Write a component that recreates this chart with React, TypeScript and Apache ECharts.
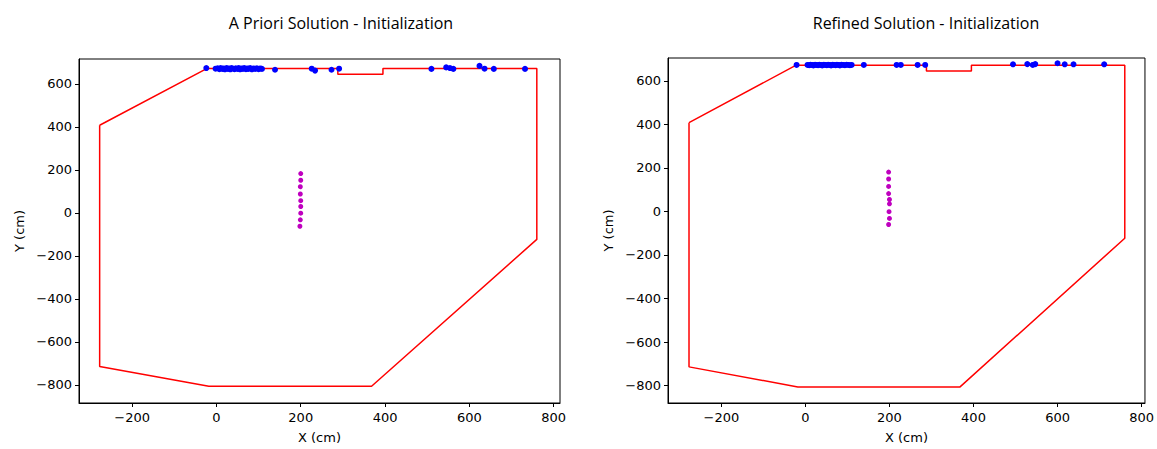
import React, { useEffect, useRef } from "react";
import * as echarts from "echarts";

const titles = ["A Priori Solution - Initialization", "Refined Solution - Initialization"];
const xTicks = [-200, 0, 200, 400, 600, 800];
const yTicks = [-800, -600, -400, -200, 0, 200, 400, 600];

// Boundary polygon (cm)
const boundary: [number, number][] = [
  [-277, 408], [-22, 672], [288, 672], [288, 645], [395, 645], [395, 672],
  [760, 672], [760, -123], [368, -806], [-18, -806], [-277, -714], [-277, 408],
];

// Blue points, a priori
const blueLeft: [number, number][] = [
  [-24, 674], [-2, 671], [3, 673], [7, 669], [10, 674], [14, 670], [17, 672], [20, 668],
  [24, 674], [27, 670], [30, 672], [33, 668], [36, 674], [40, 671], [43, 669], [46, 673],
  [50, 670], [53, 674], [56, 668], [60, 672], [63, 670], [66, 674], [70, 669], [73, 672],
  [76, 670], [80, 674], [84, 668], [88, 672], [92, 670], [96, 673], [100, 669], [104, 672],
  [108, 670], [139, 666], [226, 671], [234, 662], [273, 666], [291, 671],
  [510, 670], [545, 677], [554, 674], [562, 670], [624, 684], [636, 671], [658, 670], [732, 670],
];

// Blue points, refined
const blueRight: [number, number][] = [
  [-21, 673], [5, 673], [9, 672], [12, 674], [16, 673], [19, 671], [23, 674], [26, 673],
  [30, 672], [33, 674], [37, 673], [40, 671], [44, 674], [47, 673], [51, 672], [54, 674],
  [58, 673], [61, 671], [65, 674], [68, 673], [72, 672], [75, 674], [79, 673], [82, 671],
  [86, 674], [90, 673], [94, 672], [98, 674], [102, 673], [106, 672], [110, 673],
  [139, 673], [217, 673], [227, 673], [267, 673], [285, 673],
  [494, 676], [528, 677], [541, 673], [547, 677], [600, 681], [617, 676], [638, 676], [711, 676],
];

// Magenta points
const magentaLeft: [number, number][] = [
  [200, 183], [200, 152], [199, 122], [199, 88], [200, 57], [200, 30], [200, -1], [199, -32], [198, -62],
];
const magentaRight: [number, number][] = [
  [198, 181], [198, 149], [198, 115], [198, 82], [200, 55], [200, 35], [199, -1], [200, -32], [198, -60],
];

const xRanges: [number, number][] = [[-326, 815], [-327, 808]];
const yRanges: [number, number][] = [[-884, 716], [-880, 705]];

const fmt = (v: number) => String(v).replace("-", "\u2212");

export default function App() {
  const ref = useRef<HTMLDivElement>(null);
  useEffect(() => {
    if (!ref.current) return;
    const chart = echarts.init(ref.current, null, { renderer: "svg" });
    const grids = [
      { left: 79, top: 59, width: 481, height: 348 },
      { left: 668, top: 58, width: 479, height: 346 },
    ];
    const axisCommon = {
      axisLine: { show: true, onZero: false, lineStyle: { color: "#000", width: 1 } },
      axisTick: { show: true, inside: false, length: 4, lineStyle: { color: "#000" } },
      splitLine: { show: false },
      nameTextStyle: { color: "#000", fontSize: 13, fontFamily: "DejaVu Sans" },
    };
    const xAxis = [0, 1].map((i) => ({
      type: "value",
      gridIndex: i,
      min: xRanges[i][0],
      max: xRanges[i][1],
      name: "X (cm)",
      nameLocation: "middle",
      nameGap: 28,
      ...axisCommon,
      axisTick: { ...axisCommon.axisTick, customValues: xTicks },
      axisLabel: {
        customValues: xTicks,
        formatter: fmt,
        color: "#000",
        fontSize: 13,
        fontFamily: "DejaVu Sans",
        margin: 8,
      },
    }));
    const yAxis = [0, 1].map((i) => ({
      type: "value",
      gridIndex: i,
      min: yRanges[i][0],
      max: yRanges[i][1],
      name: "Y (cm)",
      nameLocation: "middle",
      nameGap: 53,
      ...axisCommon,
      axisTick: { ...axisCommon.axisTick, customValues: yTicks },
      axisLabel: {
        customValues: yTicks,
        formatter: fmt,
        color: "#000",
        fontSize: 13,
        fontFamily: "DejaVu Sans",
        margin: 7,
      },
    }));
    const series: any[] = [];
    [0, 1].forEach((i) => {
      series.push({
        type: "line",
        xAxisIndex: i,
        yAxisIndex: i,
        data: boundary,
        showSymbol: false,
        symbol: "none",
        lineStyle: { color: "#ff0000", width: 1.5 },
        z: 2,
      });
      series.push({
        type: "scatter",
        xAxisIndex: i,
        yAxisIndex: i,
        data: i === 0 ? blueLeft : blueRight,
        symbolSize: 6,
        itemStyle: { color: "#0000ff", opacity: 1 },
        z: 3,
      });
      series.push({
        type: "scatter",
        xAxisIndex: i,
        yAxisIndex: i,
        data: i === 0 ? magentaLeft : magentaRight,
        symbolSize: 5,
        itemStyle: { color: "#bf00bf", opacity: 1 },
        z: 3,
      });
    });
    chart.setOption({
      animation: false,
      backgroundColor: "#fff",
      title: [
        { text: titles[0], left: 336, top: 10, textAlign: "center",
          textStyle: { fontFamily: "Open Sans", fontSize: 16, fontWeight: "normal", color: "#000" } },
        { text: titles[1], left: 921, top: 10, textAlign: "center",
          textStyle: { fontFamily: "Open Sans", fontSize: 16, fontWeight: "normal", color: "#000" } },
      ],
      grid: grids.map((g) => ({ ...g, show: true, borderColor: "#000", borderWidth: 1, backgroundColor: "transparent" })),
      xAxis,
      yAxis,
      series,
    });
    return () => chart.dispose();
  }, []);
  return (
    <div
      ref={ref}
      style={{ position: "fixed", left: 0, top: 0, width: 1157, height: 449 }}
    />
  );
}
